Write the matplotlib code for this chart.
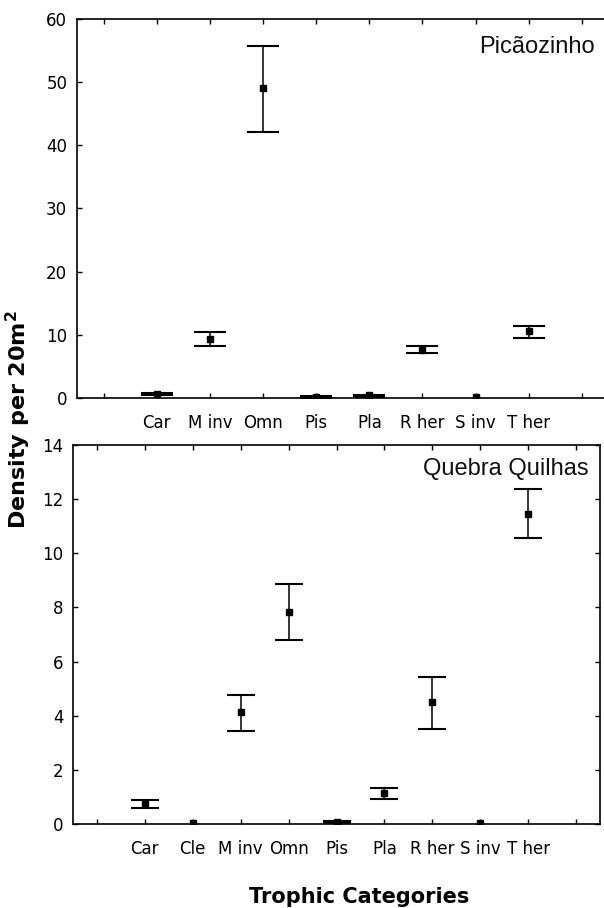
import numpy as np
import matplotlib
matplotlib.use("Agg")
import matplotlib.pyplot as plt

# ---- data ----
cats_p = ['Car', 'M inv', 'Omn', 'Pis', 'Pla', 'R her', 'S inv', 'T her']
mean_p = [0.65, 9.4, 49.0, 0.25, 0.5, 7.7, 0.15, 10.6]
lo_p = [0.5, 8.2, 42.0, 0.05, 0.15, 7.2, 0.15, 9.6]
hi_p = [0.8, 10.5, 55.7, 0.3, 0.6, 8.2, 0.15, 11.4]
yticks_p = [0, 10, 20, 30, 40, 50, 60]

cats_q = ['Car', 'Cle', 'M inv', 'Omn', 'Pis', 'Pla', 'R her', 'S inv', 'T her']
mean_q = [0.74, 0.03, 4.15, 7.83, 0.08, 1.16, 4.5, 0.03, 11.44]
lo_q = [0.59, 0.03, 3.45, 6.79, 0.03, 0.93, 3.52, 0.03, 10.54]
hi_q = [0.88, 0.03, 4.76, 8.84, 0.13, 1.35, 5.44, 0.03, 12.35]
yticks_q = [0, 2, 4, 6, 8, 10, 12, 14]

site_p = 'Picãozinho'
site_q = 'Quebra Quilhas'
ylabel = r'Density per 20m$^\mathbf{2}$'
xlabel = 'Trophic Categories'

W, H = 604, 908
fig = plt.figure(figsize=(W / 100, H / 100), dpi=100)
fig.patch.set_facecolor('white')


def rect(l, r, t, b):
    return [l / W, (H - b) / H, (r - l) / W, (b - t) / H]


ax1 = fig.add_axes(rect(77, 608.5, 18.5, 398.3))
ax2 = fig.add_axes(rect(73, 600, 444.5, 824.3))


def draw(ax, cats, mean, lo, hi, yticks, site, capsize, tx, ty):
    x = np.arange(1, len(cats) + 1)
    mean = np.array(mean)
    lo = np.array(lo)
    hi = np.array(hi)
    m = hi > lo
    ax.errorbar(x[m], mean[m], yerr=[mean[m] - lo[m], hi[m] - mean[m]],
                fmt='none', ecolor='black', elinewidth=1.1, capsize=capsize,
                capthick=1.5, zorder=3)
    ax.plot(x, mean, 's', color='black', markersize=5, zorder=4)
    ax.set_xlim(-0.5, len(cats) + 1.5)
    ax.set_ylim(yticks[0], yticks[-1])
    ax.set_yticks(yticks)
    ax.set_xticks(np.arange(0, len(cats) + 2))
    ax.set_xticklabels([''] + cats + [''])
    ax.tick_params(axis='both', which='both', direction='in', length=3.5,
                   width=1, top=True, right=True, labelsize=12,
                   colors='black')
    ax.tick_params(axis='x', pad=11)
    ax.tick_params(axis='y', pad=7)
    for s in ax.spines.values():
        s.set_linewidth(1.2)
        s.set_color('black')
    ax.text(tx, ty, site, transform=ax.transAxes, ha='right', va='baseline',
            fontsize=17, family='Liberation Sans', color='#111111')


draw(ax1, cats_p, mean_p, lo_p, hi_p, yticks_p, site_p, 11.4, 0.9746, 0.908)
draw(ax2, cats_q, mean_q, lo_q, hi_q, yticks_q, site_q, 10.3, 0.979, 0.92)

fig.text(26.7 / W, 1 - 420 / H, ylabel, rotation=90, rotation_mode='anchor',
         ha='center', va='baseline', fontsize=16, fontweight='bold')
fig.text(359 / W, 1 - 903 / H, xlabel, ha='center', va='baseline',
         fontsize=15, fontweight='bold')

fig.savefig('out.png', dpi=100, facecolor='white')
